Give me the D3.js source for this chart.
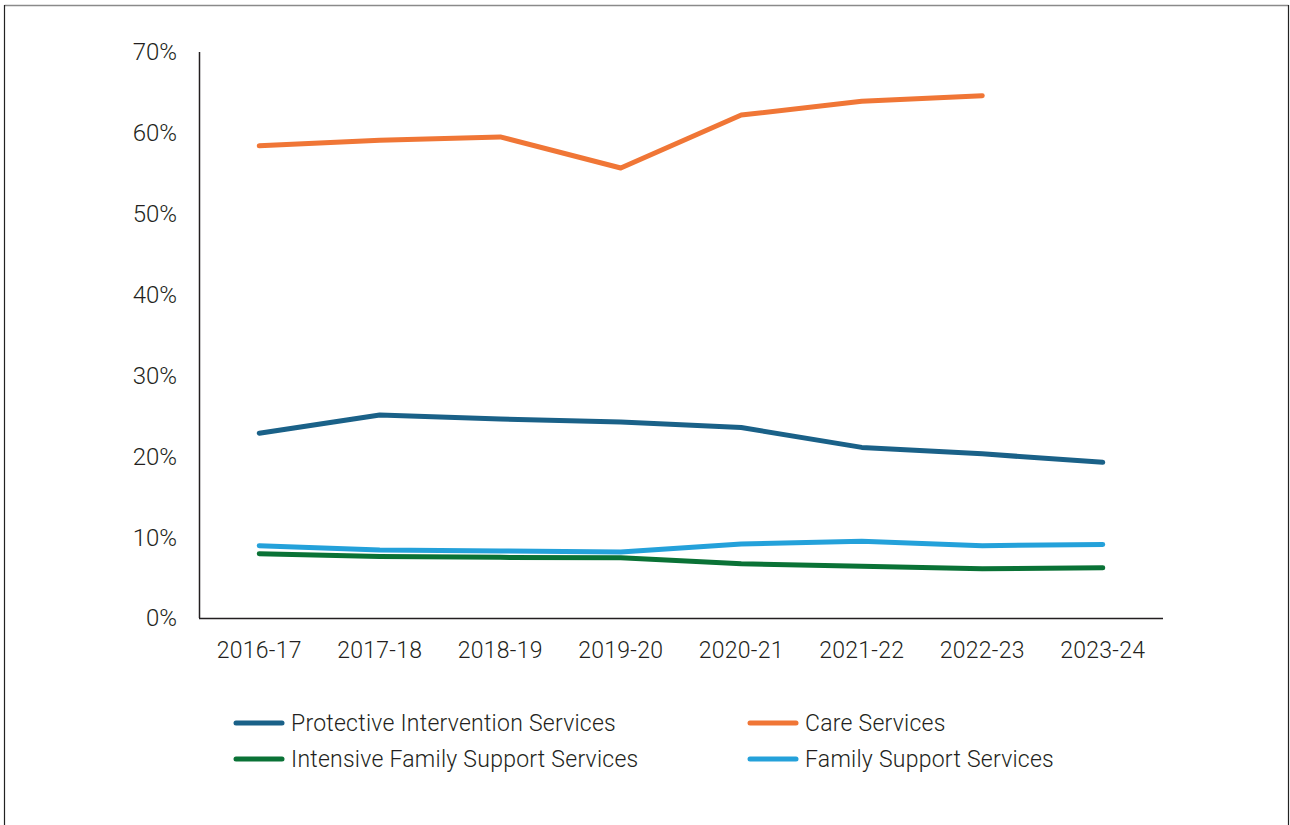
<!DOCTYPE html>
<html><head><meta charset="utf-8">
<script src="https://cdn.jsdelivr.net/npm/d3@7"></script>
<style>body{margin:0;background:#fff}svg{display:block}text{font-family:Roboto,"DejaVu Sans",sans-serif;fill:#231f20;font-weight:300}</style>
</head><body><svg id="c" width="1290" height="825"></svg>
<script>
const categories = ["2016-17","2017-18","2018-19","2019-20","2020-21","2021-22","2022-23","2023-24"];
const protective = [22.85,25.1,24.6,24.25,23.55,21.1,20.3,19.25];
const care = [58.4,59.1,59.5,55.65,62.2,63.9,64.6,null];
const intensive = [7.95,7.6,7.5,7.45,6.7,6.4,6.1,6.2];
const familySupport = [8.95,8.4,8.3,8.15,9.15,9.5,8.95,9.1];
const yTicks = [0,10,20,30,40,50,60,70];
const seriesNames = ["Protective Intervention Services","Care Services","Intensive Family Support Services","Family Support Services"];
const seriesColors = ["#1a6188","#f07636","#0a7236","#24a1da"];
const seriesData = [protective, care, intensive, familySupport];

const svg = d3.select("#c");
// frame
svg.append("line").attr("x1",4.5).attr("x2",1288.5).attr("y1",5.5).attr("y2",5.5).attr("stroke","#8a8a8a").attr("stroke-width",1.5);
svg.append("line").attr("x1",4.5).attr("x2",4.5).attr("y1",5).attr("y2",825).attr("stroke","#222").attr("stroke-width",1.2);
svg.append("line").attr("x1",1288.5).attr("x2",1288.5).attr("y1",5).attr("y2",825).attr("stroke","#222").attr("stroke-width",1.2);

const x = d3.scaleBand().domain(categories).range([199,1163]);
const y = d3.scaleLinear().domain([0,70]).range([618,52]);

// axes lines
svg.append("line").attr("x1",199.5).attr("x2",199.5).attr("y1",y(70)).attr("y2",y(0)).attr("stroke","#231f20").attr("stroke-width",1.5);
svg.append("line").attr("x1",199).attr("x2",1163).attr("y1",y(0)+0.5).attr("y2",y(0)+0.5).attr("stroke","#231f20").attr("stroke-width",1.5);

svg.selectAll("text.yt").data(yTicks).join("text").attr("class","yt")
  .attr("x",177).attr("y",d=>y(d)).attr("dy","0.35em").attr("text-anchor","end")
  .attr("font-size",24).text(d=>d+"%");
svg.selectAll("text.xt").data(categories).join("text").attr("class","xt")
  .attr("x",d=>x(d)+x.bandwidth()/2).attr("y",658).attr("text-anchor","middle")
  .attr("font-size",23).attr("letter-spacing",0.3).text(d=>d);

const line = d3.line().defined(d=>d.v!=null).x(d=>x(d.c)+x.bandwidth()/2).y(d=>y(d.v));
seriesData.forEach((s,i)=>{
  svg.append("path").datum(s.map((v,j)=>({c:categories[j],v})))
    .attr("d",line).attr("fill","none").attr("stroke",seriesColors[i])
    .attr("stroke-width",5).attr("stroke-linecap","round").attr("stroke-linejoin","round");
});

// legend
const legX = [236,750], legY = [723,759];
seriesNames.forEach((n,i)=>{
  const lx = legX[i%2], ly = legY[Math.floor(i/2)];
  svg.append("line").attr("x1",lx).attr("x2",lx+46).attr("y1",ly).attr("y2",ly)
    .attr("stroke",seriesColors[i]).attr("stroke-width",5).attr("stroke-linecap","round");
  svg.append("text").attr("x",lx+55).attr("y",ly).attr("dy","0.35em").attr("font-size",23)
    .attr("letter-spacing",0.25).text(n);
});
</script></body></html>
